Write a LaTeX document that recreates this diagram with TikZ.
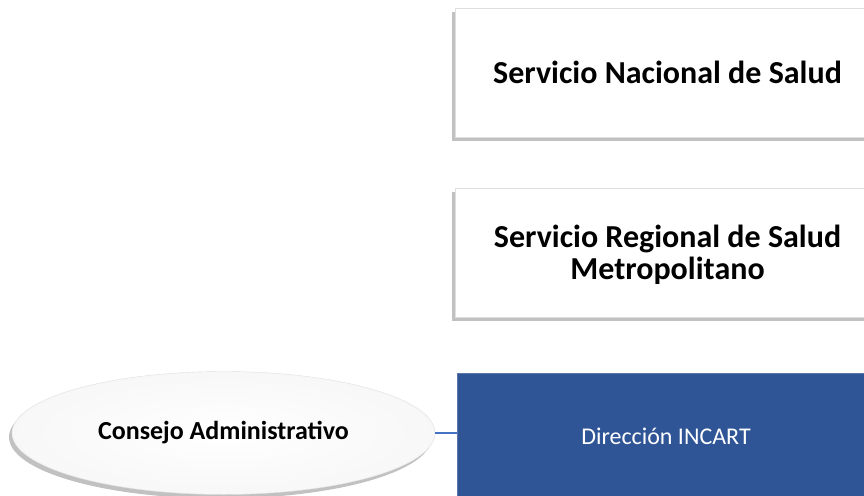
\documentclass[tikz,border=0pt]{standalone}
\usepackage{fontspec}
\setmainfont{Carlito}
\usepackage{xcolor}
\usepackage{tikz}
\definecolor{incartblue}{RGB}{47, 85, 151}
\definecolor{linkblue}{RGB}{68, 114, 196}
\usetikzlibrary{shapes, positioning, shadows, calc}

\begin{document}
\begin{tikzpicture}[
    x=1pt, y=-1pt,
    unit/.style={rectangle, draw=gray!25, fill=white, minimum width=425pt, minimum height=129pt, inner sep=0pt, font=\fontsize{32}{32}\selectfont\bfseries, align=center, drop shadow={shadow xshift=-3pt, shadow yshift=-4pt, fill=gray!70, opacity=0.7}},
    board/.style={ellipse, draw=gray!25, inner color=white, outer color=gray!6, minimum width=423pt, minimum height=123pt, inner sep=0pt, font=\fontsize{26}{30}\selectfont\bfseries, drop shadow={shadow xshift=-3pt, shadow yshift=-4pt, fill=gray!70, opacity=0.7}},
    head/.style={rectangle, draw=incartblue!80, fill=incartblue, text=white, minimum width=418pt, minimum height=126pt, inner sep=0pt, font=\fontsize{24}{29}\selectfont}
]
    \useasboundingbox (0,0) rectangle (864,495);
    \clip (0,0) rectangle (864,495);

    % Upper levels
    \node[unit] (nacional) at (667.5, 72.5) {Servicio Nacional de Salud};
    \node[unit, text depth=0pt] (regional) at (667.5, 252.5) {Servicio Regional de Salud\\Metropolitano};

    % Bottom row
    \node[head] (direccion) at (666, 436) {Dirección INCART};
    \node[board] (consejo) at (223.5, 433) {Consejo Administrativo};

    % Link
    \draw[linkblue, line width=1.6pt] (consejo.east) -- (consejo.east -| direccion.west);
\end{tikzpicture}
\end{document}
